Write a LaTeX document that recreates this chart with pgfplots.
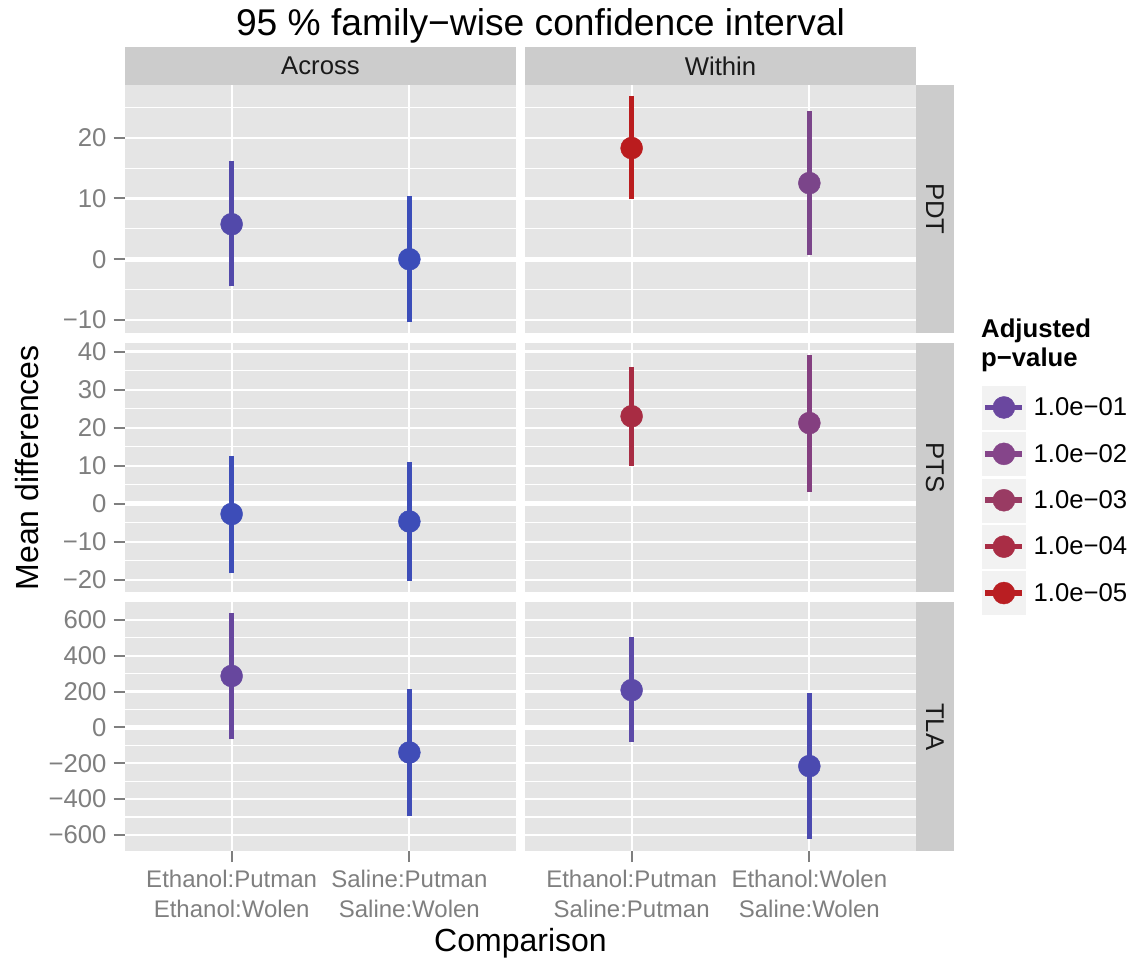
\documentclass[border=0pt]{standalone}
\usepackage{fontspec}
\setmainfont{Liberation Sans}
\usepackage{pgfplots}
\pgfplotsset{compat=1.18}

\definecolor{panelbg}{HTML}{E5E5E5}
\definecolor{stripbg}{HTML}{CCCCCC}
\definecolor{keybg}{HTML}{F2F2F2}
\definecolor{ticklab}{HTML}{7F7F7F}
\definecolor{striptext}{HTML}{1A1A1A}
% p-value colours
\definecolor{pv1}{HTML}{6A479F}
\definecolor{pv2}{HTML}{85458A}
\definecolor{pv3}{HTML}{993B63}
\definecolor{pv4}{HTML}{A92D45}
\definecolor{pv5}{HTML}{B91E22}
% point colours
\definecolor{pdtA1}{HTML}{5249AA}
\definecolor{pdtA2}{HTML}{3B4DB9}
\definecolor{pdtW1}{HTML}{BA1C1E}
\definecolor{pdtW2}{HTML}{7B458A}
\definecolor{ptsA1}{HTML}{3D4DB8}
\definecolor{ptsA2}{HTML}{3D4DB8}
\definecolor{ptsW1}{HTML}{A82C43}
\definecolor{ptsW2}{HTML}{843F80}
\definecolor{tlaA1}{HTML}{67479E}
\definecolor{tlaA2}{HTML}{404DB7}
\definecolor{tlaW1}{HTML}{5C4AA8}
\definecolor{tlaW2}{HTML}{4B4AB0}

\newcommand{\smallsz}{\fontsize{25.7}{30}\selectfont}
\newcommand{\xlabsz}{\fontsize{24}{30}\selectfont}
\newcommand{\axsz}{\fontsize{32}{36}\selectfont}
\newcommand{\titlesz}{\fontsize{37.2}{40}\selectfont}

\pgfplotsset{
  panel/.style={
    scale only axis, width=391pt, height=248.6pt,
    xmin=0.4, xmax=2.6, xtick={1,2},
    axis background/.style={fill=panelbg},
    axis lines*=left, axis line style={draw=none},
    grid=both,
    major grid style={white, line width=2.2pt},
    minor grid style={white, line width=1.1pt},
    tick align=outside, major tick length=11.3pt, minor tick length=0pt,
    tick style={ticklab, line width=2pt},
    xticklabels={}, yticklabels={},
    yticklabel style={font=\smallsz, text=ticklab, anchor=east, inner sep=0pt, xshift=-7pt},
    xticklabel style={font=\xlabsz, text=ticklab, anchor=north, inner sep=0pt,
      align=center, yshift=-8pt},
    clip=false,
  },
  nox/.style={xtick style={draw=none}},
  noy/.style={ytick style={draw=none}},
  ci/.style={line width=5.6pt, forget plot},
  pt/.style={only marks, mark=*, mark size=11pt, forget plot},
  zero/.style={white, line width=5pt, forget plot},
  legkey/.style={legend image code/.code={
      \fill[keybg] (0pt,-21.5pt) rectangle (43pt,21.5pt);
      \draw[line width=5.6pt] (3pt,0pt) -- (40pt,0pt);
      \fill (21.5pt,0pt) circle (11pt);
  }},
}

\begin{document}
\begin{tikzpicture}
\useasboundingbox (0pt,0pt) rectangle (1133pt,-958pt);

% ---------- PDT ----------
\begin{axis}[panel, nox, at={(125pt,-84.7pt)}, anchor=north west,
  ymin=-12.19, ymax=28.73, ytick={-10,0,10,20}, minor ytick={-5,5,15,25},
  yticklabels={−10,0,10,20}]
\addplot[zero] coordinates {(0.4,0) (2.6,0)};
\addplot[ci, pdtA1] coordinates {(1,-4.45) (1,16.15)};
\addplot[pt, pdtA1] coordinates {(1,5.77)};
\addplot[ci, pdtA2] coordinates {(2,-10.33) (2,10.44)};
\addplot[pt, pdtA2] coordinates {(2,0.0)};
\end{axis}
\begin{axis}[panel, nox, noy, at={(525pt,-84.7pt)}, anchor=north west,
  ymin=-12.19, ymax=28.73, ytick={-10,0,10,20}, minor ytick={-5,5,15,25}]
\addplot[zero] coordinates {(0.4,0) (2.6,0)};
\addplot[ci, pdtW1] coordinates {(1,9.84) (1,26.87)};
\addplot[pt, pdtW1] coordinates {(1,18.3)};
\addplot[ci, pdtW2] coordinates {(2,0.66) (2,24.4)};
\addplot[pt, pdtW2] coordinates {(2,12.53)};
\end{axis}

% ---------- PTS ----------
\begin{axis}[panel, nox, at={(125pt,-343.3pt)}, anchor=north west,
  ymin=-23.17, ymax=42.17, ytick={-20,-10,0,10,20,30,40}, minor ytick={-15,-5,5,15,25,35},
  yticklabels={−20,−10,0,10,20,30,40}]
\addplot[zero] coordinates {(0.4,0) (2.6,0)};
\addplot[ci, ptsA1] coordinates {(1,-18.3) (1,12.6)};
\addplot[pt, ptsA1] coordinates {(1,-2.7)};
\addplot[ci, ptsA2] coordinates {(2,-20.2) (2,11.05)};
\addplot[pt, ptsA2] coordinates {(2,-4.66)};
\end{axis}
\begin{axis}[panel, nox, noy, at={(525pt,-343.3pt)}, anchor=north west,
  ymin=-23.17, ymax=42.17, ytick={-20,-10,0,10,20,30,40}, minor ytick={-15,-5,5,15,25,35},
  legend style={at={(1.1688,0.830)}, anchor=north west, draw=none, fill=none,
    inner sep=0pt, row sep=3pt, column sep=8pt, font=\smallsz,
    nodes={inner sep=0pt, text=black}},
  legend cell align=left]
\addplot[zero] coordinates {(0.4,0) (2.6,0)};
\addplot[ci, ptsW1] coordinates {(1,10.0) (1,35.9)};
\addplot[pt, ptsW1] coordinates {(1,23.0)};
\addplot[ci, ptsW2] coordinates {(2,3.2) (2,39.2)};
\addplot[pt, ptsW2] coordinates {(2,21.2)};
\addlegendimage{legkey, pv1}\addlegendentry{1.0e−01}
\addlegendimage{legkey, pv2}\addlegendentry{1.0e−02}
\addlegendimage{legkey, pv3}\addlegendentry{1.0e−03}
\addlegendimage{legkey, pv4}\addlegendentry{1.0e−04}
\addlegendimage{legkey, pv5}\addlegendentry{1.0e−05}
\end{axis}

% ---------- TLA ----------
\begin{axis}[panel, at={(125pt,-602.3pt)}, anchor=north west,
  ymin=-689, ymax=698, ytick={-600,-400,-200,0,200,400,600},
  minor ytick={-500,-300,-100,100,300,500},
  yticklabels={−600,−400,−200,0,200,400,600},
  xticklabels={{Ethanol:Putman\\Ethanol:Wolen},{Saline:Putman\\Saline:Wolen}}]
\addplot[zero] coordinates {(0.4,0) (2.6,0)};
\addplot[ci, tlaA1] coordinates {(1,-67) (1,637)};
\addplot[pt, tlaA1] coordinates {(1,287)};
\addplot[ci, tlaA2] coordinates {(2,-497) (2,214)};
\addplot[pt, tlaA2] coordinates {(2,-140)};
\end{axis}
\begin{axis}[panel, noy, at={(525pt,-602.3pt)}, anchor=north west,
  ymin=-689, ymax=698, ytick={-600,-400,-200,0,200,400,600},
  minor ytick={-500,-300,-100,100,300,500},
  xticklabels={{Ethanol:Putman\\Saline:Putman},{Ethanol:Wolen\\Saline:Wolen}}]
\addplot[zero] coordinates {(0.4,0) (2.6,0)};
\addplot[ci, tlaW1] coordinates {(1,-82) (1,503)};
\addplot[pt, tlaW1] coordinates {(1,208)};
\addplot[ci, tlaW2] coordinates {(2,-620) (2,190)};
\addplot[pt, tlaW2] coordinates {(2,-216)};
\end{axis}

% ---------- strips ----------
\fill[stripbg] (125pt,-47pt) rectangle (516pt,-84.7pt);
\fill[stripbg] (525pt,-47pt) rectangle (916pt,-84.7pt);
\node[font=\smallsz, text=striptext] at (320.5pt,-65.9pt) {Across};
\node[font=\smallsz, text=striptext] at (720.5pt,-65.9pt) {Within};
\fill[stripbg] (916pt,-84.7pt) rectangle (954pt,-333.3pt);
\fill[stripbg] (916pt,-343.3pt) rectangle (954pt,-591.9pt);
\fill[stripbg] (916pt,-602.3pt) rectangle (954pt,-850.9pt);
\node[font=\smallsz, text=striptext, rotate=-90] at (935pt,-209pt) {PDT};
\node[font=\smallsz, text=striptext, rotate=-90] at (935pt,-467.6pt) {PTS};
\node[font=\smallsz, text=striptext, rotate=-90] at (935pt,-726.6pt) {TLA};

% ---------- titles ----------
\node[font=\titlesz, anchor=base] at (540.5pt,-36pt) {95 \% family−wise confidence interval};
\node[font=\axsz, anchor=base] at (520.5pt,-951pt) {Comparison};
\node[font=\axsz, anchor=base, rotate=90] at (38pt,-467.8pt) {Mean differences};
\node[font=\smallsz\bfseries, anchor=base west, inner sep=0pt] at (981pt,-337pt) {Adjusted};
\node[font=\smallsz\bfseries, anchor=base west, inner sep=0pt] at (981pt,-366pt) {p−value};
\end{tikzpicture}
\end{document}
